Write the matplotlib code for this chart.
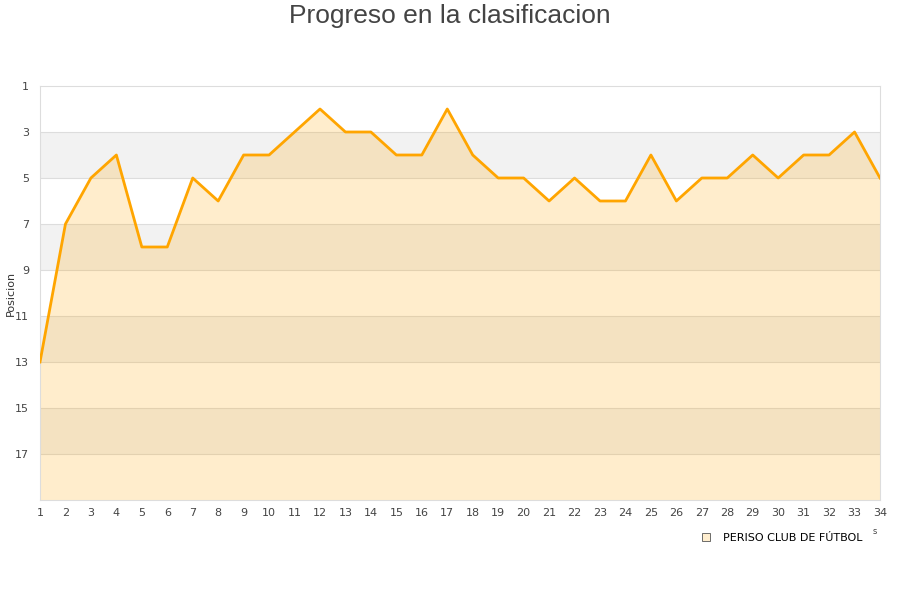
import matplotlib
matplotlib.use("Agg")
import matplotlib.pyplot as plt
from matplotlib.lines import Line2D

jornadas = list(range(1, 35))
posiciones = [13, 7, 5, 4, 8, 8, 5, 6, 4, 4, 3, 2, 3, 3, 4, 4, 2, 4, 5, 5,
              6, 5, 6, 6, 4, 6, 5, 5, 4, 5, 4, 4, 3, 5]
y_ticks = [1, 3, 5, 7, 9, 11, 13, 15, 17]
team = "PERISO CLUB DE FÚTBOL"
title = "Progreso en la clasificacion"
y_label = "Posicion"

fig = plt.figure(figsize=(9, 6), dpi=100)
ax = fig.add_axes([40/900, 100/600, 840/900, 414/600])

ymin, ymax = 1, 19
# alternating bands
for i, t in enumerate(range(1, 19, 2)):
    if i % 2 == 1:
        ax.axhspan(t, t + 2, color="#f2f2f2", zorder=0, lw=0)
for t in range(3, 19, 2):
    ax.axhline(t, color="#dddddd", lw=0.8, zorder=1)

ax.fill_between(jornadas, posiciones, ymax, color="#ffa500", alpha=0.2, lw=0, zorder=2)
ax.plot(jornadas, posiciones, color="#ffa500", lw=2, zorder=3)

ax.set_xlim(1, 34)
ax.set_ylim(ymax, ymin)
ax.set_xticks(jornadas)
ax.set_yticks(y_ticks)
ax.tick_params(axis="both", length=0, labelsize=8, colors="#444444")
ax.tick_params(axis="x", pad=6)
ax.tick_params(axis="y", pad=8)
for s in ax.spines.values():
    s.set_color("#dddddd")
    s.set_linewidth(0.8)

fig.text(11/900, 1 - 293/600, y_label, fontsize=8, color="#333333",
         rotation=90, ha="center", va="center")
fig.text(0.5, 1 - 16/600, title, ha="center", va="center", fontsize=19,
         color="#444444", family=["Liberation Sans", "DejaVu Sans"])

handle = Line2D([], [], marker="s", linestyle="none", markersize=6,
                markerfacecolor="#ffeecf", markeredgecolor="#555555", markeredgewidth=0.6)
fig.legend([handle], [team], loc="center", bbox_to_anchor=(779/900, 1 - 538/600),
           frameon=False, fontsize=8, handletextpad=0.5)
fig.text(875/900, 1 - 532/600, "s", fontsize=6, color="#444444", ha="center", va="center")

fig.savefig("out.png", dpi=100)
